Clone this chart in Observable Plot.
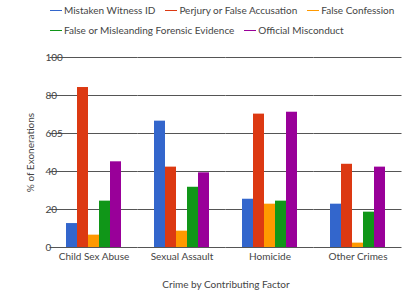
<!DOCTYPE html>
<html>
<head>
<meta charset="utf-8">
<script src="https://cdn.jsdelivr.net/npm/d3@7"></script>
<script src="https://cdn.jsdelivr.net/npm/@observablehq/plot@0.6"></script>
<style>
  body { margin: 0; background: #fff; font-family: Lato, sans-serif; }
  #legend { height: 40px; box-sizing: border-box; padding-left: 50px; }
  #legend .wrap { display: flex; flex-wrap: wrap; width: 358px; }
  #legend .item { display: flex; align-items: center; height: 20px; margin-right: 10px; font-size: 10px; color: #444; white-space: nowrap; }
  #legend .sw { display: inline-block; width: 12px; height: 1px; margin-right: 2px; }
</style>
</head>
<body>
<div id="legend"><div class="wrap"></div></div>
<div id="chart"></div>
<script>
const categories = ["Child Sex Abuse", "Sexual Assault", "Homicide", "Other Crimes"];
const seriesNames = ["Mistaken Witness ID", "Perjury or False Accusation", "False Confession", "False or Misleanding Forensic Evidence", "Official Misconduct"];
const seriesColors = ["#3366cc", "#dc3912", "#ff9900", "#109618", "#990099"];
const mistakenWitness = [12.6, 66.5, 25.4, 22.8];
const perjury = [84.2, 42.3, 70.2, 43.8];
const falseConfession = [6.5, 8.6, 22.8, 2.3];
const forensic = [24.4, 31.7, 24.4, 18.6];
const misconduct = [45.1, 39.3, 71.2, 42.3];
const yTicks = [0, 20, 40, 60, 80, 100];
const yTickLabels = ["0", "20", "40", "605", "80", "100"];
const xTitle = "Crime by Contributing Factor";
const yTitle = "% of Exonerations";

const seriesValues = [mistakenWitness, perjury, falseConfession, forensic, misconduct];
const data = [];
categories.forEach((c, i) => {
  seriesNames.forEach((s, j) => data.push({category: c, series: s, value: seriesValues[j][i]}));
});

// legend
const wrap = document.querySelector("#legend .wrap");
seriesNames.forEach((s, j) => {
  const it = document.createElement("div");
  it.className = "item";
  const sw = document.createElement("span");
  sw.className = "sw";
  sw.style.background = seriesColors[j];
  it.appendChild(sw);
  it.appendChild(document.createTextNode(s));
  wrap.appendChild(it);
});

const chart = Plot.plot({
  width: 408,
  height: 257,
  marginTop: 17,
  marginBottom: 50,
  marginLeft: 49,
  marginRight: 7,
  style: {fontFamily: "Lato, sans-serif", fontSize: "10px", color: "#444", background: "#fff"},
  fx: {domain: categories, paddingInner: 0.375, paddingOuter: 0.1875, axis: "bottom", tickSize: 0, tickPadding: 5, label: xTitle, labelAnchor: "center", labelOffset: 40},
  x: {domain: seriesNames, axis: null, padding: 0},
  y: {domain: [0, 100], label: yTitle},
  color: {domain: seriesNames, range: seriesColors},
  marks: [
    Plot.ruleY(yTicks, {stroke: "#555", strokeWidth: 1, insetLeft: -16.5, insetRight: -16.5}),
    Plot.barY(data, {fx: "category", x: "series", y: "value", fill: "series", inset: 0}),
    Plot.axisY(yTicks, {
      tickSize: 0, tickPadding: 0, textAnchor: "start", dx: -21,
      tickFormat: (d) => yTickLabels[yTicks.indexOf(d)],
      label: yTitle, labelAnchor: "center", labelOffset: 40, labelArrow: "none"
    })
  ]
});
document.getElementById("chart").appendChild(chart);
</script>
</body>
</html>
